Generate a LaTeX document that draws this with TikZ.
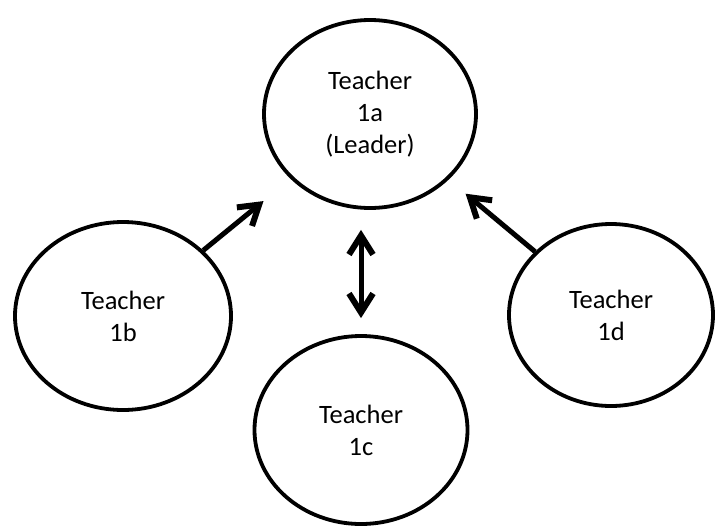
\documentclass[tikz,border=0pt]{standalone}
\usepackage{fontspec}
\setmainfont{Carlito}
\usetikzlibrary{shapes.geometric, arrows.meta}

\begin{document}
\begin{tikzpicture}[x=1pt, y=-1pt,
  every node/.style={ellipse, draw, line width=3.8pt, inner sep=0pt, align=center,
    font=\fontsize{26.5}{32}\selectfont},
  barb/.tip={Straight Barb[length=19pt, width=24pt, line width=6pt]},
  link/.style={line width=5pt, -barb}]
  \useasboundingbox (0, 0) rectangle (715, 525);

  \node[minimum width=212, minimum height=188]
    (T1a) at (370, 114)
    {Teacher\\
    1a\\
    (Leader)};

  \node[minimum width=216, minimum height=188]
    (T1b) at (123, 316)
    {Teacher\\
    1b};

  \node[minimum width=213, minimum height=188]
    (T1c) at (361, 430)
    {Teacher\\
    1c};

  \node[minimum width=204, minimum height=182]
    (T1d) at (611, 315)
    {Teacher\\
    1d};

  % arrows into the leader
  \draw[link, shorten >=35pt] (T1b) -- (T1a);
  \draw[link, shorten >=22pt] (T1d) -- (T1a);
  \draw[line width=5pt, barb-barb, shorten <=16pt, shorten >=20pt]
    (T1c.north) -- (T1c.north |- T1a.south);

\end{tikzpicture}
\end{document}
